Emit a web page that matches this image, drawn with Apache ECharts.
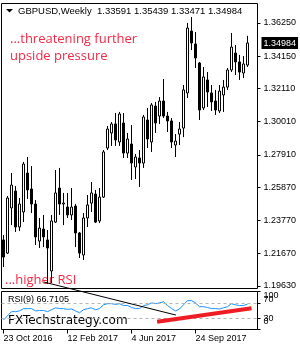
<!DOCTYPE html>
<html><head><meta charset="utf-8">
<script src="https://cdn.jsdelivr.net/npm/echarts@6/dist/echarts.min.js"></script>
<style>html,body{margin:0;padding:0;background:#fff}#c{width:300px;height:350px}</style>
</head><body><div id="c"></div>
<script>
// ---- data ----
const weeks = ['23 Oct 2016','30 Oct 2016','6 Nov 2016','13 Nov 2016','20 Nov 2016','27 Nov 2016','4 Dec 2016','11 Dec 2016','18 Dec 2016','25 Dec 2016',
 '1 Jan 2017','8 Jan 2017','15 Jan 2017','22 Jan 2017','29 Jan 2017','5 Feb 2017','12 Feb 2017','19 Feb 2017','26 Feb 2017','5 Mar 2017',
 '12 Mar 2017','19 Mar 2017','26 Mar 2017','2 Apr 2017','9 Apr 2017','16 Apr 2017','23 Apr 2017','30 Apr 2017','7 May 2017','14 May 2017',
 '21 May 2017','28 May 2017','4 Jun 2017','11 Jun 2017','18 Jun 2017','25 Jun 2017','2 Jul 2017','9 Jul 2017','16 Jul 2017','23 Jul 2017',
 '30 Jul 2017','6 Aug 2017','13 Aug 2017','20 Aug 2017','27 Aug 2017','3 Sep 2017','10 Sep 2017','17 Sep 2017','24 Sep 2017','1 Oct 2017',
 '8 Oct 2017','15 Oct 2017','22 Oct 2017','29 Oct 2017','5 Nov 2017','12 Nov 2017','19 Nov 2017','26 Nov 2017','3 Dec 2017','10 Dec 2017',
 '17 Dec 2017','24 Dec 2017'];
const opens = [1.2254,1.2171,1.2456,1.2563,1.2336,1.2431,1.2677,1.2576,1.2481,1.2247,
 1.2323,1.2254,1.2058,1.2367,1.2582,1.2481,1.2462,1.2412,1.2468,1.2298,
 1.2159,1.2393,1.2487,1.2544,1.2374,1.2525,1.2835,1.2930,1.2987,1.2873,
 1.2993,1.2803,1.2860,1.2715,1.2772,1.2740,1.3012,1.2873,1.3100,1.3037,
 1.3132,1.3037,1.3006,1.2854,1.2923,1.2961,1.3183,1.3574,1.3492,1.3372,
 1.3088,1.3265,1.3183,1.3132,1.3069,1.3170,1.3220,1.3328,1.3435,1.3379,
 1.3309,1.33591];
const closes = [1.2146,1.2519,1.2601,1.2336,1.2481,1.2734,1.2570,1.2481,1.2273,1.2329,
 1.2273,1.2203,1.2374,1.2551,1.2481,1.2487,1.2412,1.2462,1.2298,1.2171,
 1.2393,1.2475,1.2551,1.2367,1.2525,1.2810,1.2955,1.2987,1.2886,1.3050,
 1.2803,1.2892,1.2740,1.2778,1.2740,1.3031,1.2892,1.3107,1.2993,1.3132,
 1.3037,1.3006,1.2873,1.2879,1.2955,1.3202,1.3593,1.3499,1.3404,1.3075,
 1.3284,1.3189,1.3126,1.3075,1.3195,1.3220,1.3328,1.3473,1.3379,1.3315,
 1.3366,1.34984];
const lows = [1.2083,1.2165,1.2348,1.2304,1.2310,1.2367,1.2513,1.2424,1.2222,1.2203,
 1.2209,1.1975,1.1982,1.2361,1.2412,1.2348,1.2393,1.2380,1.2209,1.2140,
 1.2127,1.2336,1.2431,1.2361,1.2361,1.2519,1.2822,1.2848,1.2848,1.2848,
 1.2772,1.2772,1.2633,1.2639,1.2589,1.2709,1.2835,1.2810,1.2930,1.2987,
 1.3025,1.2936,1.2835,1.2778,1.2854,1.2904,1.3151,1.3454,1.3341,1.3012,
 1.3075,1.3094,1.3069,1.3044,1.3056,1.3063,1.3202,1.3315,1.3296,1.3265,
 1.3277,1.33471];
const highs = [1.2285,1.2532,1.2677,1.2595,1.2519,1.2747,1.2778,1.2721,1.2506,1.2393,
 1.2412,1.2317,1.2412,1.2696,1.2709,1.2551,1.2551,1.2582,1.2481,1.2304,
 1.2424,1.2538,1.2620,1.2570,1.2582,1.2822,1.2974,1.2999,1.3056,1.3063,
 1.3056,1.2930,1.2980,1.2797,1.2822,1.3044,1.3088,1.3119,1.3126,1.3157,
 1.3271,1.3063,1.3025,1.2923,1.2999,1.3233,1.3625,1.3663,1.3568,1.3379,
 1.3347,1.3315,1.3233,1.3202,1.3233,1.3265,1.3341,1.3562,1.3486,1.3423,
 1.3416,1.35439];
const rsi = [25,36,47,47,49,55,55,55,49,50,
 50,47,52,57,55,55,53,54,49,44,
 52,55,57,52,55,65,68,68,66,68,
 63,63,58,55,55,63,65,70,68,70,
 73,63,55,49,54,65,76,76,70,60,
 60,58,55,55,54,57,60,68,65,63,
 63,66.7105];
const priceTicks = [1.1963,1.2167,1.2377,1.2587,1.2791,1.3001,1.3211,1.3415,1.3625];
const rsiTicksA = [30,100];
const rsiTicksB = [0,70];
const rsiLevels = [30,70];
const emptyWeeksRight = ['',''];
const labelEvery = 16;
// annotation anchors [category index, value]
const blackTrendStart = [10.1, 1.1988];   // price panel
const blackTrendEnd = [43.1, 38];         // RSI panel
const redTrend = [[38.4, 20.5],[62, 55.8]]; // RSI panel

// ---- chart ----
const chart = echarts.init(document.getElementById('c'));
const cats = weeks.concat(emptyWeeksRight);
const candles = weeks.map((w,i)=>[opens[i], closes[i], lows[i], highs[i]]);
const N = weeks.length;
const FONT = 'Liberation Sans';
const f5 = v => v.toFixed(5);
const lastClose = closes[N-1];
const title = 'GBPUSD,Weekly  ' + [opens[N-1], highs[N-1], lows[N-1], closes[N-1]].map(f5).join(' ');

const rich = {
  s100:{fontFamily:FONT, fontSize:9, color:'#000', padding:[9,0,0,0]},
  s70:{fontFamily:FONT, fontSize:9, color:'#000', padding:[0,0,6,0]},
  s30:{fontFamily:FONT, fontSize:9, color:'#000'},
  s0:{fontFamily:FONT, fontSize:9, color:'#000', padding:[0,0,15,0]}
};
function rsiAxis(vals) {
  return {type:'value', gridIndex:1, position:'right', offset:0, min:0, max:100, axisLine:{show:false}, splitLine:{show:false},
    axisTick:{show:true, length:3, customValues:vals, lineStyle:{color:'#000'}},
    axisLabel:{customValues:vals, margin:6, color:'#000', fontFamily:FONT, fontSize:9,
      showMinLabel:true, showMaxLabel:true, hideOverlap:false,
      formatter: v => '{s' + v + '|' + v + '}', rich: rich}};
}

const option = {
  animation: false,
  backgroundColor: '#fff',
  grid: [
    {left:1.5, top:3.5, width:256, height:285, show:true, borderColor:'#000', borderWidth:1},
    {left:1.5, top:291.5, width:256, height:38, show:true, borderColor:'#000', borderWidth:1}
  ],
  xAxis: [
    {type:'category', gridIndex:0, data:cats, boundaryGap:true, axisLine:{show:false}, axisTick:{show:false}, axisLabel:{show:false}, splitLine:{show:false}},
    {type:'category', gridIndex:1, data:cats, boundaryGap:true, axisLine:{show:false}, splitLine:{show:false},
      axisTick:{show:true, interval:labelEvery-1, alignWithLabel:true, length:4, lineStyle:{color:'#000'}},
      axisLabel:{interval:labelEvery-1, align:'left', margin:5, fontFamily:FONT, fontSize:9, color:'#000', hideOverlap:false}}
  ],
  yAxis: [
    {type:'value', gridIndex:0, position:'right', min:1.19472, max:1.37482, axisLine:{show:false}, splitLine:{show:false},
      axisTick:{show:true, length:3, customValues:priceTicks, lineStyle:{color:'#000'}},
      axisLabel:{customValues:priceTicks, formatter:f5, margin:6, fontFamily:FONT, fontSize:9, color:'#000', hideOverlap:false}},
    rsiAxis(rsiTicksA),
    rsiAxis(rsiTicksB)
  ],
  series: [
    {type:'candlestick', xAxisIndex:0, yAxisIndex:0, data:candles, barWidth:3,
      itemStyle:{color:'#fff', color0:'#000', borderColor:'#000', borderColor0:'#000', borderWidth:1},
      markLine:{symbol:'none', silent:true, animation:false, precision:5,
        lineStyle:{color:'rgba(0,0,0,0)', width:0},
        data:[{yAxis: lastClose}],
        label:{position:'end', distance:4, formatter:()=>f5(lastClose), backgroundColor:'#000', color:'#fff',
          fontFamily:FONT, fontSize:9, padding:[2,2,1,2]}}},
    {type:'line', xAxisIndex:1, yAxisIndex:1, data:rsi, symbol:'none', lineStyle:{color:'#1e90ff', width:1},
      markLine:{symbol:'none', silent:true, animation:false, label:{show:false},
        lineStyle:{color:'#b4b4b4', type:[3,3], width:1},
        data: rsiLevels.map(v=>({yAxis:v}))}}
  ],
  graphic: [
    {type:'polygon', shape:{points:[[6,9],[13,9],[9.5,12.5]]}, style:{fill:'#000'}},
    {type:'text', x:18, y:11, style:{text:title, fontFamily:FONT, fontSize:9.5, fill:'#000', verticalAlign:'middle'}},
    {type:'text', x:10, y:39.5, style:{text:'...threatening further', fontFamily:'Open Sans', fontSize:13, fill:'#f42a46', verticalAlign:'middle'}},
    {type:'text', x:10, y:56, style:{text:'upside pressure', fontFamily:'Open Sans', fontSize:13, fill:'#f42a46', verticalAlign:'middle'}},
    {type:'text', x:5, y:280, style:{text:'...higher RSI', fontFamily:'Open Sans', fontSize:13, fill:'#f42a46', verticalAlign:'middle'}},
    {type:'text', x:8, y:299.5, style:{text:'RSI(9) ' + rsi[N-1].toFixed(4), fontFamily:FONT, fontSize:9, fill:'#000', verticalAlign:'middle'}},
    {type:'text', x:8, y:320.5, style:{text:'FXTechstrategy.com', fontFamily:'DejaVu Sans', fontSize:12, fill:'#000', verticalAlign:'middle'}}
  ]
};
chart.setOption(option);

function pt(xi, yi, k, v) {
  const k0 = Math.floor(k), f = k - k0;
  const a = chart.convertToPixel({xAxisIndex:xi, yAxisIndex:yi}, [k0, v]);
  const b = chart.convertToPixel({xAxisIndex:xi, yAxisIndex:yi}, [k0+1, v]);
  return [a[0] + (b[0]-a[0]) * f, a[1]];
}
const b1 = pt(0,0,blackTrendStart[0], blackTrendStart[1]);
const b2 = pt(1,1,blackTrendEnd[0], blackTrendEnd[1]);
const r1 = pt(1,1,redTrend[0][0], redTrend[0][1]);
const r2 = pt(1,1,redTrend[1][0], redTrend[1][1]);
const g = option.graphic.concat([
  {type:'line', z:100, shape:{x1:b1[0], y1:b1[1], x2:b2[0], y2:b2[1]}, style:{stroke:'#000', lineWidth:1}},
  {type:'line', z:100, shape:{x1:r1[0], y1:r1[1], x2:r2[0], y2:r2[1]}, style:{stroke:'#ee1c25', lineWidth:4}}
]);
chart.setOption({graphic: g}, {replaceMerge:['graphic']});
</script>
</body></html>
